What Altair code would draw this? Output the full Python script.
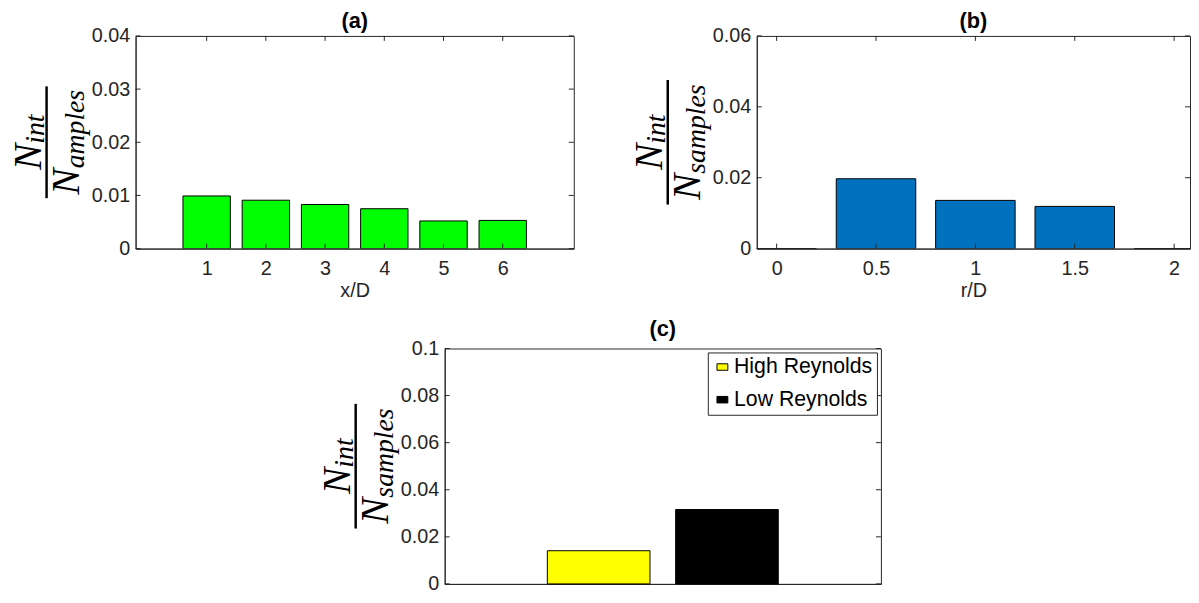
import altair as alt
import pandas as pd

# ---------------- data ----------------
a_x = [1, 2, 3, 4, 5, 6]
a_y = [0.0099, 0.0091, 0.0083, 0.0075, 0.0052, 0.0053]
b_x = [0, 0.5, 1, 1.5, 2]
b_y = [0.0, 0.0197, 0.0136, 0.0119, 0.0]
c_cat = ["High Reynolds", "Low Reynolds"]
c_y = [0.0141, 0.0316]

a_xticks = [1, 2, 3, 4, 5, 6]
a_yticks = [0, 0.01, 0.02, 0.03, 0.04]
b_xticks = [0, 0.5, 1, 1.5, 2]
b_yticks = [0, 0.02, 0.04, 0.06]
c_yticks = [0, 0.02, 0.04, 0.06, 0.08, 0.1]

# ---------------- style ----------------
AXC = "#262626"
WA, WB, H1 = 443, 438, 215
W2, H2 = 441, 238
NFONT, SFONT = 40, 28

one = pd.DataFrame({"k": [0]})


def axis_q(values, fmt="~g"):
    return alt.Axis(values=values, format=fmt, ticks=False, grid=False, title=None,
                    labelPadding=6, domainColor=AXC)


def frac_layers(sub_den, H):
    cy = H / 2
    bar_len = 113 if sub_den == "amples" else 126
    n_w = 0.667 * NFONT
    num_len = n_w + 1.056 * SFONT
    den_len = n_w + (2.833 if sub_den == "amples" else 3.222) * SFONT
    txt = dict(font="Liberation Serif", fontStyle="italic", angle=270, align="left",
               baseline="alphabetic", color="black")
    base = alt.Chart(one)
    return [
        base.mark_rule(color="black", strokeWidth=2.5).encode(
            x=alt.value(-90), y=alt.value(cy - bar_len / 2), y2=alt.value(cy + bar_len / 2)),
        base.mark_text(text="N", fontSize=NFONT, **txt).encode(
            x=alt.value(-96), y=alt.value(cy + num_len / 2)),
        base.mark_text(text="int", fontSize=SFONT, **txt).encode(
            x=alt.value(-93), y=alt.value(cy + num_len / 2 - n_w)),
        base.mark_text(text="N", fontSize=NFONT, **txt).encode(
            x=alt.value(-57), y=alt.value(cy + den_len / 2)),
        base.mark_text(text=sub_den, fontSize=SFONT, **txt).encode(
            x=alt.value(-52), y=alt.value(cy + den_len / 2 - n_w)),
    ]


def tick_layers(xvals, xenc, yvals, yenc, W, H, tl=5):
    out = []
    if xvals is not None:
        dx = pd.DataFrame({"t": xvals})
        out.append(alt.Chart(dx).mark_rule(color=AXC, strokeWidth=1).encode(
            x=xenc("t"), y=alt.value(H - tl), y2=alt.value(H)))
        out.append(alt.Chart(dx).mark_rule(color=AXC, strokeWidth=1).encode(
            x=xenc("t"), y=alt.value(0), y2=alt.value(tl)))
    dy = pd.DataFrame({"t": yvals})
    out.append(alt.Chart(dy).mark_rule(color=AXC, strokeWidth=1).encode(
        y=yenc("t"), x=alt.value(0), x2=alt.value(tl)))
    out.append(alt.Chart(dy).mark_rule(color=AXC, strokeWidth=1).encode(
        y=yenc("t"), x=alt.value(W - tl), x2=alt.value(W)))
    return out


def title(t, off):
    return alt.TitleParams(t, font="Liberation Sans", fontSize=22, fontWeight="bold",
                           color="black", anchor="middle", frame="group", offset=off)


# ---------------- panel (a) ----------------
xa_scale = alt.Scale(domain=[-0.2, 7.2], nice=False, zero=False)
ya_scale = alt.Scale(domain=[0, 0.04], nice=False)
xa_axis = alt.Axis(values=a_xticks, format="~g", ticks=False, grid=False, title="x/D",
                   labelPadding=10, titlePadding=2, domainColor=AXC)
ya_axis = axis_q(a_yticks)


def xa(f):
    return alt.X(f"{f}:Q", scale=xa_scale, axis=xa_axis)


def ya(f):
    return alt.Y(f"{f}:Q", scale=ya_scale, axis=ya_axis)


da = pd.DataFrame({"x": a_x, "y": a_y})
bars_a = alt.Chart(da).transform_calculate(
    x0="datum.x - 0.4", x1="datum.x + 0.4", y0="0"
).mark_bar(color="#00FF00", stroke="black", strokeWidth=1, clip=True).encode(
    x=xa("x0"), x2="x1:Q", y=ya("y"), y2="y0:Q")

panel_a = alt.layer(bars_a, *tick_layers(a_xticks, xa, a_yticks, ya, WA, H1),
                    *frac_layers("amples", H1)).properties(
    width=WA, height=H1, title=title("(a)", -7))

# ---------------- panel (b) ----------------
xb_scale = alt.Scale(domain=[-0.1, 2.08], nice=False, zero=False)
yb_scale = alt.Scale(domain=[0, 0.06], nice=False)
xb_axis = alt.Axis(values=b_xticks, format="~g", ticks=False, grid=False, title="r/D",
                   labelPadding=10, titlePadding=2, domainColor=AXC)
yb_axis = axis_q(b_yticks)


def xb(f):
    return alt.X(f"{f}:Q", scale=xb_scale, axis=xb_axis)


def yb(f):
    return alt.Y(f"{f}:Q", scale=yb_scale, axis=yb_axis)


db = pd.DataFrame({"x": b_x, "y": b_y})
bars_b = alt.Chart(db).transform_calculate(
    x0="datum.x - 0.2", x1="datum.x + 0.2", y0="0"
).mark_bar(color="#0072BD", stroke="black", strokeWidth=1, clip=True).encode(
    x=xb("x0"), x2="x1:Q", y=yb("y"), y2="y0:Q")

panel_b = alt.layer(bars_b, *tick_layers(b_xticks, xb, b_yticks, yb, WB, H1),
                    *frac_layers("samples", H1)).properties(
    width=WB, height=H1, title=title("(b)", -7))

# ---------------- panel (c) ----------------
yc_scale = alt.Scale(domain=[0, 0.1], nice=False)
yc_axis = axis_q(c_yticks)


def yc(f):
    return alt.Y(f"{f}:Q", scale=yc_scale, axis=yc_axis)


dc = pd.DataFrame({"cat": c_cat, "y": c_y})
bars_c = alt.Chart(dc).mark_bar(stroke="black", strokeWidth=1).encode(
    x=alt.X("cat:N", sort=c_cat,
            scale=alt.Scale(paddingInner=0.2, paddingOuter=0.8),
            axis=alt.Axis(labels=False, ticks=False, title=None, domainColor=AXC)),
    y=yc("y"),
    color=alt.Color("cat:N", sort=c_cat,
                    scale=alt.Scale(domain=c_cat, range=["#FFFF00", "#000000"]),
                    legend=alt.Legend(title=None, orient="none", legendX=266, legendY=4,
                                      strokeColor=AXC, fillColor="white", padding=4,
                                      symbolType="M-1,-0.6H1V0.6H-1Z", symbolSize=121,
                                      symbolStrokeColor="black", symbolStrokeWidth=1,
                                      symbolOpacity=1,
                                      labelFont="Liberation Sans", labelFontSize=21.5,
                                      labelColor="black", labelOffset=1, rowPadding=10)))

panel_c = alt.layer(bars_c, *tick_layers(None, None, c_yticks, yc, W2, H2),
                    *frac_layers("samples", H2)).properties(
    width=W2, height=H2, title=title("(c)", -2))

row1 = alt.hconcat(panel_a, panel_b, spacing=55)
chart = alt.vconcat(row1, panel_c, spacing=16, center=True).resolve_scale(
    color="independent"
).resolve_legend(color="independent").properties(
    padding={"left": 0, "top": -2, "right": 0, "bottom": 0}
).configure_view(stroke=AXC, strokeWidth=1).configure_axis(
    labelFont="Liberation Sans", labelFontSize=20, labelColor=AXC,
    titleFont="Liberation Sans", titleFontSize=20, titleColor=AXC,
    titleFontWeight="normal", domainWidth=1)

chart.save("out.html", embed_options={"renderer": "svg", "actions": False})
